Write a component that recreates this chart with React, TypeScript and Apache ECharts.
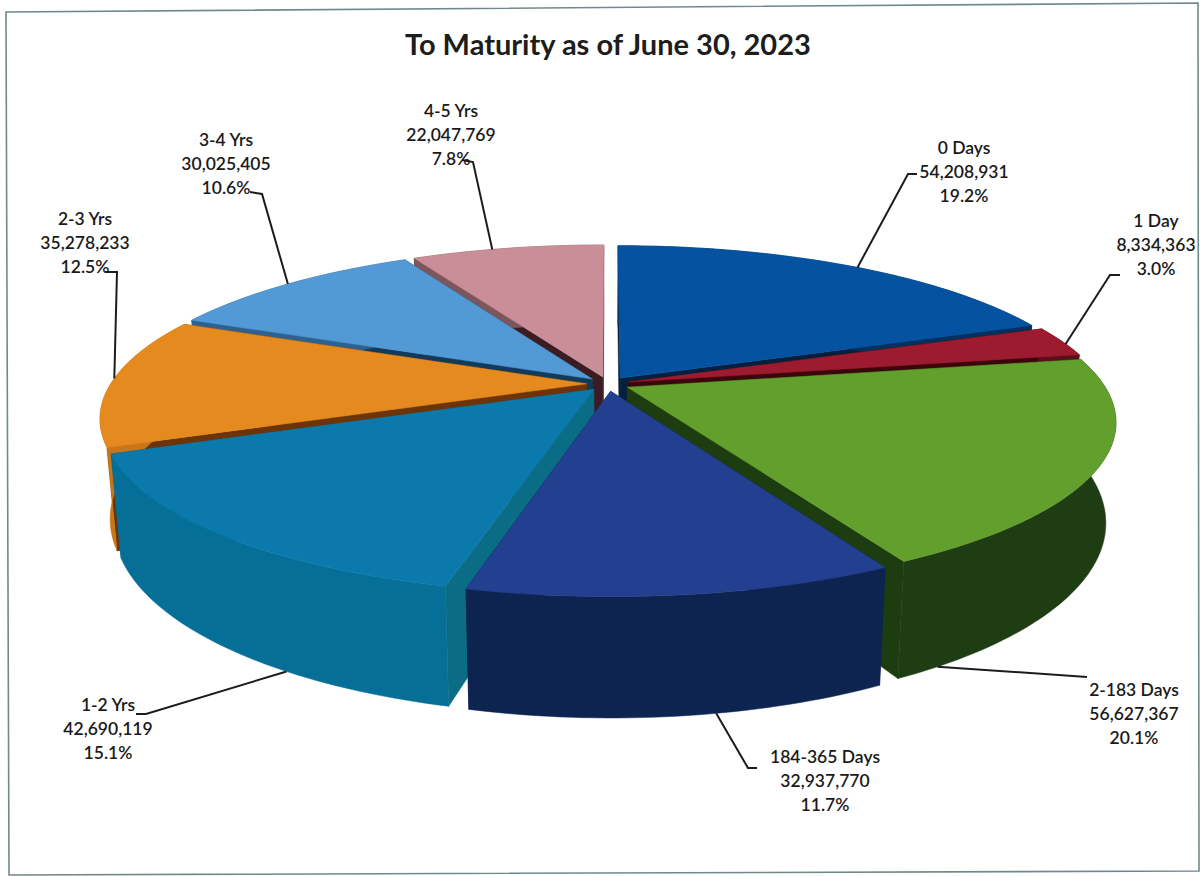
import React, { useEffect, useRef } from "react";
import * as echarts from "echarts";

const titleText = "To Maturity as of June 30, 2023";
const categories = ["0 Days", "1 Day", "2-183 Days", "184-365 Days", "1-2 Yrs", "2-3 Yrs", "3-4 Yrs", "4-5 Yrs"];
const amounts = [54208931, 8334363, 56627367, 32937770, 42690119, 35278233, 30025405, 22047769];

const topColors = ["#0553a0", "#9c1b2e", "#629f2c", "#233f8f", "#0b79ab", "#e48a1e", "#5299d6", "#c98e98"];
const rimColors = ["#03305c", "#5a0f1a", "#1f3d12", "#0e2450", "#066f98", "#c9761a", "#2c6190", "#7d555c"];
const cutColors = ["#04203f", "#3a060c", "#1d3d10", "#0e2450", "#0a6c85", "#6c3408", "#123a5a", "#3a1c22"];

// layout of the labels (not data)
const labelAnchors = [[964, 135], [1156, 208], [1134, 677], [825, 744], [108, 692], [85, 206], [226, 127], [451, 98]];
const leaderElbows = [
  [[917, 174], [908, 174]],
  [[1120, 275], [1110, 275]],
  [[1087, 677]],
  [[757, 768], [748, 768]],
  [[136, 714], [146, 714]],
  [[105, 272], [117, 272]],
  [[250, 192], [262, 194]],
  [[462, 160], [473, 162]],
];
const leaderFractions = [0.52, 0.6, 0.93, 0.42, 0.34, 0.52, 0.5, 0.42];
const leaderOnBottom = [0, 0, 1, 1, 1, 0, 0, 0];

const CX = 608, CY = 384, RX = 476, RY = 161, K = 0.2, EXPLODE = 0.045, DEPTH = 96, BOTTOM_SCALE = 0.98;
const TITLE_FONT = "Lato";
const total = amounts.reduce((a, b) => a + b, 0);

function project(X: number, Y: number, low: number): number[] {
  const p = 1 / (1 - K * Y);
  const s = low ? BOTTOM_SCALE : 1;
  return [CX + RX * X * p * s, CY + RY * Y * p + (low ? DEPTH * p : 0)];
}

function sliceAngles(i: number) {
  let before = 0;
  for (let j = 0; j < i; j++) before += amounts[j];
  const a0 = (before / total) * Math.PI * 2;
  const a1 = ((before + amounts[i]) / total) * Math.PI * 2;
  return [a0, a1];
}

function depthOf(i: number) {
  const [a0, a1] = sliceAngles(i);
  return -Math.cos((a0 + a1) / 2);
}

function renderSlice(params: any, api: any) {
  const i = params.dataIndex;
  const [a0, a1] = sliceAngles(i);
  const mid = (a0 + a1) / 2;
  const ox = EXPLODE * Math.sin(mid);
  const oy = -EXPLODE * Math.cos(mid);
  const at = (a: number, low: number) => project(ox + Math.sin(a), oy - Math.cos(a), low);
  const apex = (low: number) => project(ox, oy, low);

  const steps = Math.max(4, Math.ceil((a1 - a0) / 0.02));
  const arcTop: number[][] = [];
  const arcLow: number[][] = [];
  for (let s = 0; s <= steps; s++) {
    const a = a0 + ((a1 - a0) * s) / steps;
    arcTop.push(at(a, 0));
    arcLow.push(at(a, 1));
  }

  const rank = categories.map((_, j) => depthOf(j)).filter((d) => d < depthOf(i)).length;
  const z = rank * 3 + 1;

  const poly = (points: number[][], fill: string, z2: number) => ({
    type: "polygon",
    z2,
    shape: { points },
    style: { fill, stroke: fill, lineWidth: 0.5 },
  });

  const fr = leaderFractions[i];
  const leaderEnd = at(a0 + (a1 - a0) * fr, leaderOnBottom[i]);
  const pct = ((amounts[i] / total) * 100).toFixed(1) + "%";
  const text = `${categories[i]}\n${amounts[i].toLocaleString("en-US")}\n${pct}`;

  return {
    type: "group",
    children: [
      poly([apex(0), at(a0, 0), at(a0, 1), apex(1)], cutColors[i], z),
      poly([apex(0), at(a1, 0), at(a1, 1), apex(1)], cutColors[i], z),
      poly([...arcTop, ...arcLow.slice().reverse()], rimColors[i], z + 1),
      poly([apex(0), ...arcTop], topColors[i], z + 2),
      {
        type: "polyline",
        z2: 100,
        shape: { points: [...leaderElbows[i], leaderEnd] },
        style: { fill: "none", stroke: "#1c1c1c", lineWidth: 2 },
      },
      {
        type: "text",
        z2: 101,
        x: labelAnchors[i][0],
        y: labelAnchors[i][1],
        style: {
          text,
          fill: "#1a1a1a",
          font: `600 17.5px ${TITLE_FONT}`,
          lineHeight: 24,
          textAlign: "center",
          textVerticalAlign: "top",
        },
      },
    ],
  };
}

export default function App() {
  const ref = useRef<HTMLDivElement>(null);
  useEffect(() => {
    document.body.style.margin = "0";
    const chart = echarts.init(ref.current!, null, { renderer: "svg" });
    chart.setOption({
      animation: false,
      backgroundColor: "#ffffff",
      title: {
        text: titleText,
        left: 400,
        top: 24,
        textStyle: { fontFamily: TITLE_FONT, fontWeight: "bold", fontSize: 29, color: "#1d1d1d" },
      },
      graphic: [
        {
          type: "polygon",
          z: -1,
          shape: { points: [[6, 12], [1198, 3], [1199, 871], [9, 875]] },
          style: { fill: "none", stroke: "#6f8a8a", lineWidth: 1.6 },
        },
      ],
      series: [
        {
          type: "custom",
          coordinateSystem: "none",
          data: amounts.map((v, i) => ({ name: categories[i], value: [v] })),
          renderItem: renderSlice,
        },
      ],
    });
    return () => chart.dispose();
  }, []);
  return <div ref={ref} style={{ position: "absolute", left: 0, top: 0, width: 1200, height: 876 }} />;
}
